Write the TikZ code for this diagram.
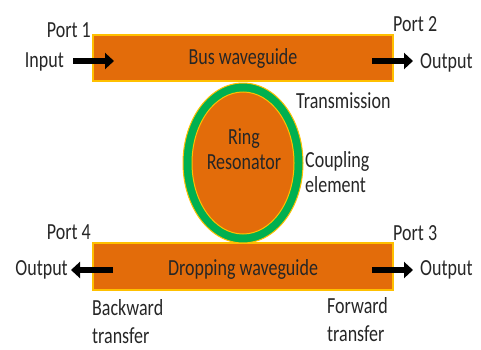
\documentclass[tikz,border=0pt]{standalone}
\usepackage{fontspec}
\setmainfont{Carlito}
\usetikzlibrary{arrows.meta}
\definecolor{guideorange}{RGB}{227,108,10}
\definecolor{guidegold}{RGB}{255,192,0}
\definecolor{ringgreen}{RGB}{0,176,80}
\newcommand{\tall}[1]{\scalebox{1}[1.28]{#1}}
\newcommand{\twolines}[3][l]{\tall{\begin{tabular}{@{}#1@{}}#2\\#3\end{tabular}}}
\tikzset{
  guide/.style={draw=guidegold, line width=1.5pt, fill=guideorange, inner sep=0pt},
  lbl/.style={font=\fontsize{18}{19}\selectfont, inner sep=0pt, text=black!85},
  port/.style={line width=6.5pt, -{Triangle[length=9pt,width=16pt]}}
}
\begin{document}
\begin{tikzpicture}[x=1pt, y=1pt]
        \useasboundingbox (0,0) rectangle (481,349);

        % ==================== waveguides ====================
        \node[guide, minimum width=300pt, minimum height=46pt] (bus) at (243,291) {};
        \node[guide, minimum width=300pt, minimum height=47pt] (drop) at (243,82.5) {};
        \node[lbl] (bustxt) at (243,291) {\tall{Bus waveguide}};
        \node[lbl] (droptxt) at (243,80) {\tall{Dropping waveguide}};

        % ==================== ring ====================
        \draw[draw=guidegold, line width=1pt, fill=ringgreen] (243,186) ellipse [x radius=60, y radius=80];
        \draw[draw=guidegold, line width=1pt, fill=guideorange] (243,186) ellipse [x radius=51, y radius=71];
        \node[lbl] (ring) at (244,197) {\twolines[c]{Ring}{Resonator}};

        % ==================== ports ====================
        \node[lbl, anchor=east] (p1) at (91,319) {\tall{Port 1}};
        \node[lbl, anchor=east] (input) at (64,287) {\tall{Input}};
        \node[lbl, anchor=west] (p2) at (393,325) {\tall{Port 2}};
        \node[lbl, anchor=west] (out2) at (420,286) {\tall{Output}};
        \node[lbl, anchor=east] (p4) at (91,117) {\tall{Port 4}};
        \node[lbl, anchor=east] (out4) at (68,79) {\tall{Output}};
        \node[lbl, anchor=west] (p3) at (393,116) {\tall{Port 3}};
        \node[lbl, anchor=west] (out3) at (420,79) {\tall{Output}};

        % ==================== notes ====================
        \node[lbl, anchor=west] (trans) at (296,248) {\tall{Transmission}};
        \node[lbl, anchor=west] (coupl) at (305,174) {\twolines{Coupling}{element}};
        \node[lbl, anchor=west, font=\fontsize{18}{22}\selectfont] (back) at (92,25) {\twolines{Backward}{transfer}};
        \node[lbl, anchor=west, font=\fontsize{18}{22}\selectfont] (fwd) at (327,27) {\twolines{Forward}{transfer}};

        % ==================== arrows ====================
        \coordinate (a1) at (73,288);  \coordinate (b1) at (114,288);
        \coordinate (a2) at (372,288); \coordinate (b2) at (413,288);
        \coordinate (a4) at (113,79);  \coordinate (b4) at (71,79);
        \coordinate (a3) at (372,79);  \coordinate (b3) at (413,79);
        \draw[port] (a1) -- (b1);
        \draw[port] (a2) -- (b2);
        \draw[port] (a4) -- (b4);
        \draw[port] (a3) -- (b3);
    \end{tikzpicture}
\end{document}
